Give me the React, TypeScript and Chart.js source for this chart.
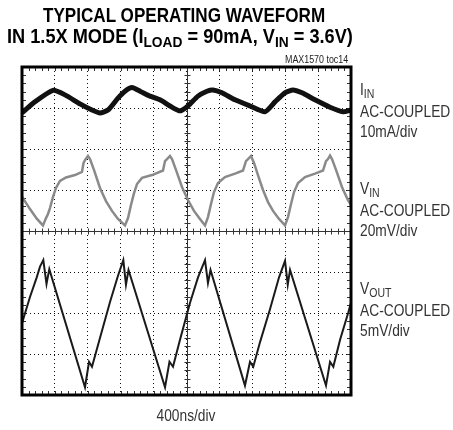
import React, { useEffect, useLayoutEffect, useRef } from "react";
import { Chart, registerables } from "chart.js";

Chart.register(...registerables);

// ---- data (time in ns, values in channel units) ----
const IIN_T_NS = [0, 158, 377, 523, 705, 851, 948, 1046, 1167, 1252, 1337, 1435, 1556, 1678, 1799, 1921, 2018, 2140, 2249, 2322, 2431, 2589, 2772, 2954, 3076, 3197, 3295, 3404, 3562, 3745, 3903, 4000];
const IIN_MA = [-3.2, -0.5, 2.3, 1.2, -1.0, -2.5, -3.2, -2.5, 0.4, 2.1, 3.0, 2.1, 0.9, 0.0, -1.5, -2.7, -1.5, 0.9, 2.1, 2.4, 1.7, 0.0, -1.5, -2.9, -0.5, 1.7, 2.4, 1.7, 0.0, -1.8, -2.9, -2.5];

const VIN_T_NS = [0, 97, 182, 255, 292, 316, 340, 377, 413, 462, 535, 644, 729, 748, 766, 802, 827, 875, 948, 1021, 1094, 1167, 1252,
  1289, 1325, 1362, 1398, 1459, 1581, 1714, 1739, 1763, 1799, 1824, 1872, 1945, 2018, 2091, 2164, 2225,
  2261, 2298, 2334, 2383, 2468, 2590, 2687, 2723, 2748, 2784, 2821, 2869, 2930, 2991, 3052, 3125, 3198,
  3234, 3271, 3307, 3356, 3441, 3562, 3660, 3696, 3720, 3745, 3769, 3818, 3890, 3963, 4000];
const VIN_MV = [-3.3, -9.3, -14.1, -17.3, -13.7, -11.7, -8.8, -3.4, 1.0, 4.4, 6.1, 7.3, 8.8, 13.2, 14.6, 16.6, 15.1, 9.8, 1.0, -5.4, -10.2, -14.1, -17.3,
  -13.7, -7.3, -1.5, 2.9, 5.9, 7.3, 9.5, 14.1, 15.1, 16.6, 15.1, 9.8, 1.5, -4.9, -10.2, -14.1, -17.3,
  -13.2, -6.8, -1.0, 3.4, 6.3, 8.0, 9.5, 14.1, 15.1, 16.6, 13.2, 7.3, 0.0, -5.9, -10.2, -14.1, -17.3,
  -13.2, -6.8, -1.0, 3.4, 6.3, 8.0, 9.5, 14.1, 15.1, 16.8, 15.1, 9.8, 1.5, -4.9, -7.3];

const VOUT_T_NS = [0, 97, 179, 219, 259, 298, 332, 766, 815, 851, 948, 1070, 1167, 1232, 1264, 1295, 1739, 1793, 1836, 1921, 2043, 2140, 2225, 2261, 2292, 2711, 2772, 2812, 2894, 3015, 3125, 3198, 3231, 3259, 3696, 3745, 3785, 3867, 3967, 4000];
const VOUT_MV = [0.0, 3.2, 5.6, 6.9, 7.7, 4.8, 6.6, -7.8, -4.7, -5.3, -1.8, 2.6, 5.8, 7.7, 4.7, 6.5, -7.8, -4.7, -5.3, -2.0, 2.5, 5.6, 7.7, 4.9, 6.5, -7.6, -4.7, -5.3, -2.3, 1.7, 5.6, 7.6, 4.7, 6.5, -7.6, -4.7, -5.3, -2.0, 1.3, 2.5];

// channel settings: screen offset (divisions) and units per division
const CHANNEL_OFFSET_DIV = [3.2, 1.0, -2.25];
const CHANNEL_UNITS_PER_DIV = [10, 20, 5];
const CHANNEL_NAME = ["I", "V", "V"];
const CHANNEL_SUB = ["IN", "IN", "OUT"];
const CHANNEL_COUPLING = ["AC-COUPLED", "AC-COUPLED", "AC-COUPLED"];
const CHANNEL_SCALE_LABEL = ["10mA/div", "20mV/div", "5mV/div"];
const TIME_PER_DIV_NS = 400;
const TIME_DIVS = 10;
const VERT_DIVS = 8;
const TIME_LABEL = "400ns/div";
const NOTE = "MAX1570 toc14";

const FONT = '"Liberation Sans", Arial, sans-serif';
const NARROW = 0.81;

function toPoints(t: number[], v: number[], ch: number) {
  return t.map((tt, i) => ({ x: tt, y: CHANNEL_OFFSET_DIV[ch] + v[i] / CHANNEL_UNITS_PER_DIV[ch] }));
}

const scopePlugin = {
  id: "scopeDecor",
  beforeDatasetsDraw(chart: any) {
    const { ctx, chartArea: a, scales } = chart;
    const xs = scales.x, ys = scales.y;
    const xc = Math.round(xs.getPixelForValue((TIME_DIVS / 2) * TIME_PER_DIV_NS)) + 0.5;
    const yc = Math.round(ys.getPixelForValue(0)) + 0.5;
    ctx.save();
    ctx.strokeStyle = "#333";
    ctx.lineWidth = 1;
    ctx.beginPath();
    ctx.moveTo(a.left, yc); ctx.lineTo(a.right, yc);
    ctx.moveTo(xc, a.top); ctx.lineTo(xc, a.bottom);
    for (let i = 1; i < TIME_DIVS * 5; i++) {
      const px = Math.round(xs.getPixelForValue((i * TIME_PER_DIV_NS) / 5)) + 0.5;
      ctx.moveTo(px, yc - 3); ctx.lineTo(px, yc + 3);
      ctx.moveTo(px, a.top); ctx.lineTo(px, a.top + 4);
      ctx.moveTo(px, a.bottom); ctx.lineTo(px, a.bottom - 4);
    }
    for (let i = 1; i < VERT_DIVS * 5; i++) {
      const py = Math.round(ys.getPixelForValue(-VERT_DIVS / 2 + i / 5)) + 0.5;
      ctx.moveTo(xc - 3, py); ctx.lineTo(xc + 3, py);
      ctx.moveTo(a.left, py); ctx.lineTo(a.left + 4, py);
      ctx.moveTo(a.right, py); ctx.lineTo(a.right - 4, py);
    }
    ctx.stroke();
    ctx.restore();
  },
  afterDraw(chart: any) {
    const { ctx, chartArea: a } = chart;
    ctx.save();
    ctx.strokeStyle = "#000";
    ctx.lineWidth = 3;
    ctx.strokeRect(a.left, a.top, a.right - a.left, a.bottom - a.top);
    ctx.restore();
  },
};

function ScopeChart() {
  const ref = useRef<HTMLCanvasElement | null>(null);
  useEffect(() => {
    if (!ref.current) return;
    const chart = new Chart(ref.current, {
      type: "line",
      data: {
        datasets: [
          { data: toPoints(IIN_T_NS, IIN_MA, 0), borderColor: "#111", borderWidth: 5, pointRadius: 0, tension: 0.2 },
          { data: toPoints(VIN_T_NS, VIN_MV, 1), borderColor: "#8a8a8a", borderWidth: 2.5, pointRadius: 0, tension: 0 },
          { data: toPoints(VOUT_T_NS, VOUT_MV, 2), borderColor: "#1a1a1a", borderWidth: 2, pointRadius: 0, tension: 0 },
        ],
      },
      options: {
        animation: false,
        responsive: false,
        devicePixelRatio: 1,
        layout: { padding: { left: 22, top: 67, right: 102, bottom: 35 } },
        plugins: { legend: { display: false }, tooltip: { enabled: false }, title: { display: false } },
        scales: {
          x: {
            type: "linear", min: 0, max: TIME_DIVS * TIME_PER_DIV_NS,
            ticks: { display: false, stepSize: TIME_PER_DIV_NS },
            grid: { drawTicks: false, color: "#111", lineWidth: 1 },
            border: { display: false, dash: [1, 3] },
          },
          y: {
            type: "linear", min: -VERT_DIVS / 2, max: VERT_DIVS / 2,
            ticks: { display: false, stepSize: 1 },
            grid: { drawTicks: false, color: "#111", lineWidth: 1 },
            border: { display: false, dash: [1, 3] },
          },
        },
      },
      plugins: [scopePlugin],
    } as any);
    return () => chart.destroy();
  }, []);
  return <canvas ref={ref} width={453} height={430} style={{ position: "absolute", left: 0, top: 0, width: 453, height: 430 }} />;
}

// Text squeezed horizontally to a target width (condensed look)
function FitText({ left, top, width, style, children }: any) {
  const inner = useRef<HTMLSpanElement | null>(null);
  useLayoutEffect(() => {
    const el = inner.current;
    if (!el) return;
    el.style.transform = "none";
    const w = el.offsetWidth;
    if (w > 0) el.style.transform = `scaleX(${width / w})`;
  }, [width]);
  return (
    <div style={{ position: "absolute", left, top, whiteSpace: "nowrap", ...style }}>
      <span ref={inner} style={{ display: "inline-block", transformOrigin: "0 0", whiteSpace: "nowrap" }}>{children}</span>
    </div>
  );
}

const sub = (t: string, size: number, drop: number) => (
  <span style={{ fontSize: size, position: "relative", top: drop }}>{t}</span>
);

export default function App() {
  const groupTops = [80, 179, 279];
  const titleStyle = { fontFamily: FONT, fontWeight: 900, fontSize: 20.5, lineHeight: "21px", color: "#000" };
  const labelStyle = { fontFamily: FONT, fontSize: 17, lineHeight: "20.5px", color: "#333" };
  return (
    <div style={{ position: "absolute", left: 0, top: 0, width: 453, height: 430, background: "#fff", overflow: "hidden" }}>
      <ScopeChart />
      <FitText left={43} top={4} width={282} style={titleStyle}>TYPICAL OPERATING WAVEFORM</FitText>
      <FitText left={7} top={25} width={346} style={titleStyle}>
        IN 1.5X MODE (I{sub("LOAD", 15.5, 4)} = 90mA, V{sub("IN", 15.5, 4)} = 3.6V)
      </FitText>
      <FitText left={285} top={55} width={63} style={{ fontFamily: FONT, fontSize: 10, lineHeight: "10px", color: "#222" }}>
        {NOTE}
      </FitText>
      {groupTops.map((top, i) => (
        <div key={i} style={{ position: "absolute", left: 360, top, whiteSpace: "nowrap", transform: `scaleX(${NARROW})`, transformOrigin: "0 0", ...labelStyle }}>
          <div>{CHANNEL_NAME[i]}{sub(CHANNEL_SUB[i], 13, 3)}</div>
          <div>{CHANNEL_COUPLING[i]}</div>
          <div>{CHANNEL_SCALE_LABEL[i]}</div>
        </div>
      ))}
      <div style={{ position: "absolute", left: 86, top: 406, width: 200, textAlign: "center", transform: `scaleX(${NARROW})`, transformOrigin: "50% 0", ...labelStyle }}>
        {TIME_LABEL}
      </div>
    </div>
  );
}
